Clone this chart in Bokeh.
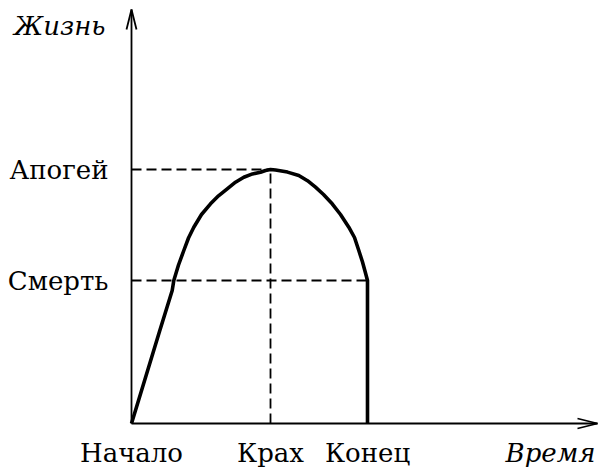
from bokeh.plotting import figure
from bokeh.models import Range1d
from bokeh.core.properties import value
from bokeh.embed import file_html
from bokeh.resources import INLINE

# ---- data (time / life units) ----
x_tick_vals = [0, 139, 236]
x_tick_labels = ["Начало", "Крах", "Конец"]
y_tick_vals = [143, 254]
y_tick_labels = ["Смерть", "Апогей"]

curve_x = [0, 14, 28, 40.7, 42.3, 47, 52.3, 57, 62.3, 70, 79, 87, 95.7, 104, 112.3, 121, 129, 134,
           139, 144, 156, 167.3, 176, 184, 192, 200.7, 209, 217.3, 223, 227.3, 231, 234, 236, 236]
curve_y = [0, 46, 92, 133, 143, 158.5, 173, 185.5, 196.3, 209, 219.7, 227.7, 234.7, 241.3, 246.3, 249.6, 251.3, 253,
           254, 253.5, 251.4, 248, 242.8, 236.3, 229, 219.7, 209, 196.3, 186, 173, 161.5, 150.5, 143, 0]

x_axis_end = 466
y_axis_end = 414
x_name = "Время"
y_name = "Жизнь"

FONT = value("DejaVu Serif")
FS = value("26px")

p = figure(width=600, height=476, output_backend="svg", toolbar_location=None,
           x_range=Range1d(-131, 469), y_range=Range1d(-53, 423),
           min_border_left=0, min_border_right=0, min_border_top=0, min_border_bottom=0)
p.axis.visible = False
p.grid.visible = False
p.outline_line_color = None
p.background_fill_color = "white"
p.border_fill_color = "white"

# axes with arrows
ax = dict(line_color="black", line_width=1.8)
p.line([0, x_axis_end], [0, 0], **ax)
p.line([0, 0], [0, y_axis_end], **ax)
hl, hw = 20, 5
p.line([x_axis_end - hl, x_axis_end, x_axis_end - hl], [hw, 0, -hw], **ax)
p.line([-hw, 0, hw], [y_axis_end - hl, y_axis_end, y_axis_end - hl], **ax)

# dashed guides
apogee_x, end_x = x_tick_vals[1], x_tick_vals[2]
death_y, apogee_y = y_tick_vals
dash = dict(line_color="black", line_width=1.8, line_dash="10 5")
p.line([0, apogee_x], [apogee_y, apogee_y], **dash)
p.line([apogee_x, apogee_x], [0, apogee_y], **dash)
p.line([0, end_x], [death_y, death_y], **dash)

# life curve
p.line(curve_x, curve_y, line_color="black", line_width=3.6, line_join="round")

# tick labels
p.text(x=x_tick_vals, y=[-29] * len(x_tick_vals), text=x_tick_labels, text_align="center",
       text_baseline="middle", text_font=FONT, text_font_size=FS, text_color="black")
p.text(x=[-23] * len(y_tick_vals), y=y_tick_vals, text=y_tick_labels, text_align="right",
       text_baseline="middle", text_font=FONT, text_font_size=FS, text_color="black")

# axis names
p.text(x=[-26], y=[398], text=[y_name], text_align="right", text_baseline="middle",
       text_font=FONT, text_font_style="italic", text_font_size=FS, text_color="black")
p.text(x=[464], y=[-29], text=[x_name], text_align="right", text_baseline="middle",
       text_font=FONT, text_font_style="italic", text_font_size=FS, text_color="black")

open("out.html", "w").write(file_html(p, INLINE))
